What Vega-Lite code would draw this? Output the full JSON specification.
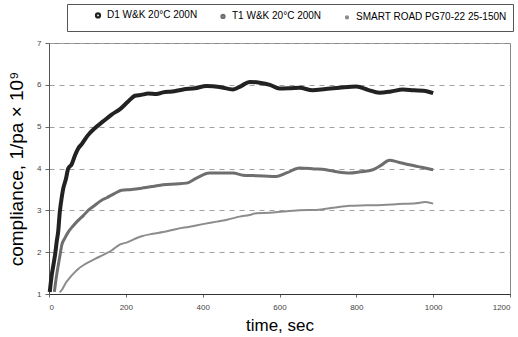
{
  "$schema": "https://vega.github.io/schema/vega-lite/v6.json",
  "width": 461,
  "height": 251,
  "autosize": "none",
  "padding": {"left": 49, "top": 43, "right": 8, "bottom": 43},
  "background": "white",
  "config": {
    "font": "Liberation Sans",
    "view": {"stroke": "#888", "strokeWidth": 1}
  },
  "data": {"values": [
    {"s":"D1","t":2,"v":1.05},{"s":"D1","t":7,"v":1.44},{"s":"D1","t":12,"v":1.72},{"s":"D1","t":16,"v":1.95},{"s":"D1","t":20,"v":2.25},{"s":"D1","t":24,"v":2.5},{"s":"D1","t":28,"v":2.95},{"s":"D1","t":33,"v":3.3},{"s":"D1","t":37,"v":3.52},{"s":"D1","t":44,"v":3.75},{"s":"D1","t":50,"v":4.0},{"s":"D1","t":59,"v":4.1},{"s":"D1","t":67,"v":4.3},{"s":"D1","t":76,"v":4.48},{"s":"D1","t":85,"v":4.58},{"s":"D1","t":100,"v":4.78},{"s":"D1","t":120,"v":4.97},{"s":"D1","t":140,"v":5.12},{"s":"D1","t":163,"v":5.29},{"s":"D1","t":185,"v":5.42},{"s":"D1","t":206,"v":5.6},{"s":"D1","t":224,"v":5.74},{"s":"D1","t":240,"v":5.76},{"s":"D1","t":258,"v":5.79},{"s":"D1","t":280,"v":5.78},{"s":"D1","t":297,"v":5.82},{"s":"D1","t":320,"v":5.84},{"s":"D1","t":349,"v":5.89},{"s":"D1","t":380,"v":5.92},{"s":"D1","t":410,"v":5.97},{"s":"D1","t":444,"v":5.95},{"s":"D1","t":479,"v":5.89},{"s":"D1","t":500,"v":5.97},{"s":"D1","t":522,"v":6.07},{"s":"D1","t":548,"v":6.05},{"s":"D1","t":575,"v":6.0},{"s":"D1","t":600,"v":5.91},{"s":"D1","t":630,"v":5.92},{"s":"D1","t":652,"v":5.93},{"s":"D1","t":686,"v":5.87},{"s":"D1","t":720,"v":5.9},{"s":"D1","t":756,"v":5.93},{"s":"D1","t":800,"v":5.96},{"s":"D1","t":830,"v":5.88},{"s":"D1","t":860,"v":5.81},{"s":"D1","t":890,"v":5.84},{"s":"D1","t":921,"v":5.89},{"s":"D1","t":950,"v":5.87},{"s":"D1","t":975,"v":5.86},{"s":"D1","t":1000,"v":5.8},
    {"s":"T1","t":14,"v":1.05},{"s":"T1","t":19,"v":1.4},{"s":"T1","t":24,"v":1.68},{"s":"T1","t":29,"v":1.95},{"s":"T1","t":33,"v":2.16},{"s":"T1","t":41,"v":2.33},{"s":"T1","t":50,"v":2.48},{"s":"T1","t":62,"v":2.62},{"s":"T1","t":76,"v":2.76},{"s":"T1","t":90,"v":2.88},{"s":"T1","t":102,"v":3.0},{"s":"T1","t":115,"v":3.09},{"s":"T1","t":137,"v":3.24},{"s":"T1","t":150,"v":3.3},{"s":"T1","t":170,"v":3.4},{"s":"T1","t":189,"v":3.48},{"s":"T1","t":215,"v":3.5},{"s":"T1","t":241,"v":3.53},{"s":"T1","t":270,"v":3.57},{"s":"T1","t":297,"v":3.61},{"s":"T1","t":330,"v":3.63},{"s":"T1","t":358,"v":3.65},{"s":"T1","t":384,"v":3.77},{"s":"T1","t":418,"v":3.89},{"s":"T1","t":450,"v":3.89},{"s":"T1","t":479,"v":3.89},{"s":"T1","t":505,"v":3.84},{"s":"T1","t":531,"v":3.83},{"s":"T1","t":560,"v":3.82},{"s":"T1","t":592,"v":3.81},{"s":"T1","t":620,"v":3.9},{"s":"T1","t":652,"v":4.01},{"s":"T1","t":690,"v":3.99},{"s":"T1","t":721,"v":3.97},{"s":"T1","t":750,"v":3.92},{"s":"T1","t":782,"v":3.89},{"s":"T1","t":810,"v":3.92},{"s":"T1","t":843,"v":3.97},{"s":"T1","t":865,"v":4.08},{"s":"T1","t":886,"v":4.2},{"s":"T1","t":910,"v":4.15},{"s":"T1","t":938,"v":4.09},{"s":"T1","t":970,"v":4.03},{"s":"T1","t":1000,"v":3.97},
    {"s":"SR","t":28,"v":1.04},{"s":"SR","t":35,"v":1.12},{"s":"SR","t":42,"v":1.24},{"s":"SR","t":55,"v":1.4},{"s":"SR","t":65,"v":1.5},{"s":"SR","t":76,"v":1.6},{"s":"SR","t":95,"v":1.72},{"s":"SR","t":120,"v":1.84},{"s":"SR","t":140,"v":1.93},{"s":"SR","t":163,"v":2.04},{"s":"SR","t":184,"v":2.18},{"s":"SR","t":205,"v":2.24},{"s":"SR","t":224,"v":2.32},{"s":"SR","t":241,"v":2.38},{"s":"SR","t":270,"v":2.44},{"s":"SR","t":297,"v":2.48},{"s":"SR","t":330,"v":2.55},{"s":"SR","t":366,"v":2.61},{"s":"SR","t":400,"v":2.67},{"s":"SR","t":436,"v":2.73},{"s":"SR","t":466,"v":2.78},{"s":"SR","t":496,"v":2.85},{"s":"SR","t":522,"v":2.89},{"s":"SR","t":540,"v":2.93},{"s":"SR","t":575,"v":2.94},{"s":"SR","t":609,"v":2.97},{"s":"SR","t":652,"v":3.0},{"s":"SR","t":696,"v":3.01},{"s":"SR","t":740,"v":3.06},{"s":"SR","t":782,"v":3.11},{"s":"SR","t":825,"v":3.12},{"s":"SR","t":868,"v":3.13},{"s":"SR","t":910,"v":3.15},{"s":"SR","t":955,"v":3.17},{"s":"SR","t":980,"v":3.2},{"s":"SR","t":1000,"v":3.16}
  ]},
  "mark": {"type": "line", "interpolate": "monotone"},
  "encoding": {
    "x": {
      "field": "t", "type": "quantitative",
      "scale": {"domain": [0, 1200], "nice": false},
      "axis": {
        "title": "time, sec", "titleFontSize": 17, "titleFontWeight": "normal", "titleColor": "#000", "titlePadding": 6,
        "values": [0,200,400,600,800,1000,1200], "format": "d", "labelFontSize": 8, "labelColor": "#444", "labelPadding": 6,
        "grid": false, "domainColor": "#333", "tickColor": "#666", "tickSize": 3
      }
    },
    "y": {
      "field": "v", "type": "quantitative",
      "scale": {"domain": [1, 7], "nice": false, "zero": false},
      "axis": {
        "title": "compliance, 1/pa × 10⁹", "titleFontSize": 19, "titleFontWeight": "normal", "titleColor": "#000", "titlePadding": 10,
        "values": [1,2,3,4,5,6,7], "labelFontSize": 8, "labelColor": "#444", "labelPadding": 4,
        "grid": true, "gridColor": "#a0a0a0", "gridDash": [5, 5], "gridWidth": 1,
        "domainColor": "#555", "tickColor": "#666", "tickSize": 4
      }
    },
    "color": {
      "field": "s", "type": "nominal",
      "scale": {"domain": ["D1", "T1", "SR"], "range": ["#222222", "#6e6e6e", "#8c8c8c"]},
      "legend": {
        "orient": "none", "legendX": 18, "legendY": -39, "direction": "horizontal",
        "title": null,
        "labelExpr": "datum.value == 'D1' ? 'D1 W&K 20°C 200N' : datum.value == 'T1' ? 'T1 W&K 20°C 200N' : 'SMART ROAD PG70-22 25-150N'",
        "labelFontSize": 10, "labelColor": "#000", "labelLimit": 300,
        "symbolType": "circle", "symbolSize": 5, "symbolStrokeWidth": 2,
        "symbolOffset": 20, "labelOffset": 4,
        "columnPadding": 0,
        "strokeColor": "#555", "fillColor": "white", "padding": 6
      }
    },
    "strokeWidth": {
      "field": "s", "type": "nominal",
      "scale": {"domain": ["D1", "T1", "SR"], "range": [4, 2, 3]},
      "legend": null
    }
  }
}
